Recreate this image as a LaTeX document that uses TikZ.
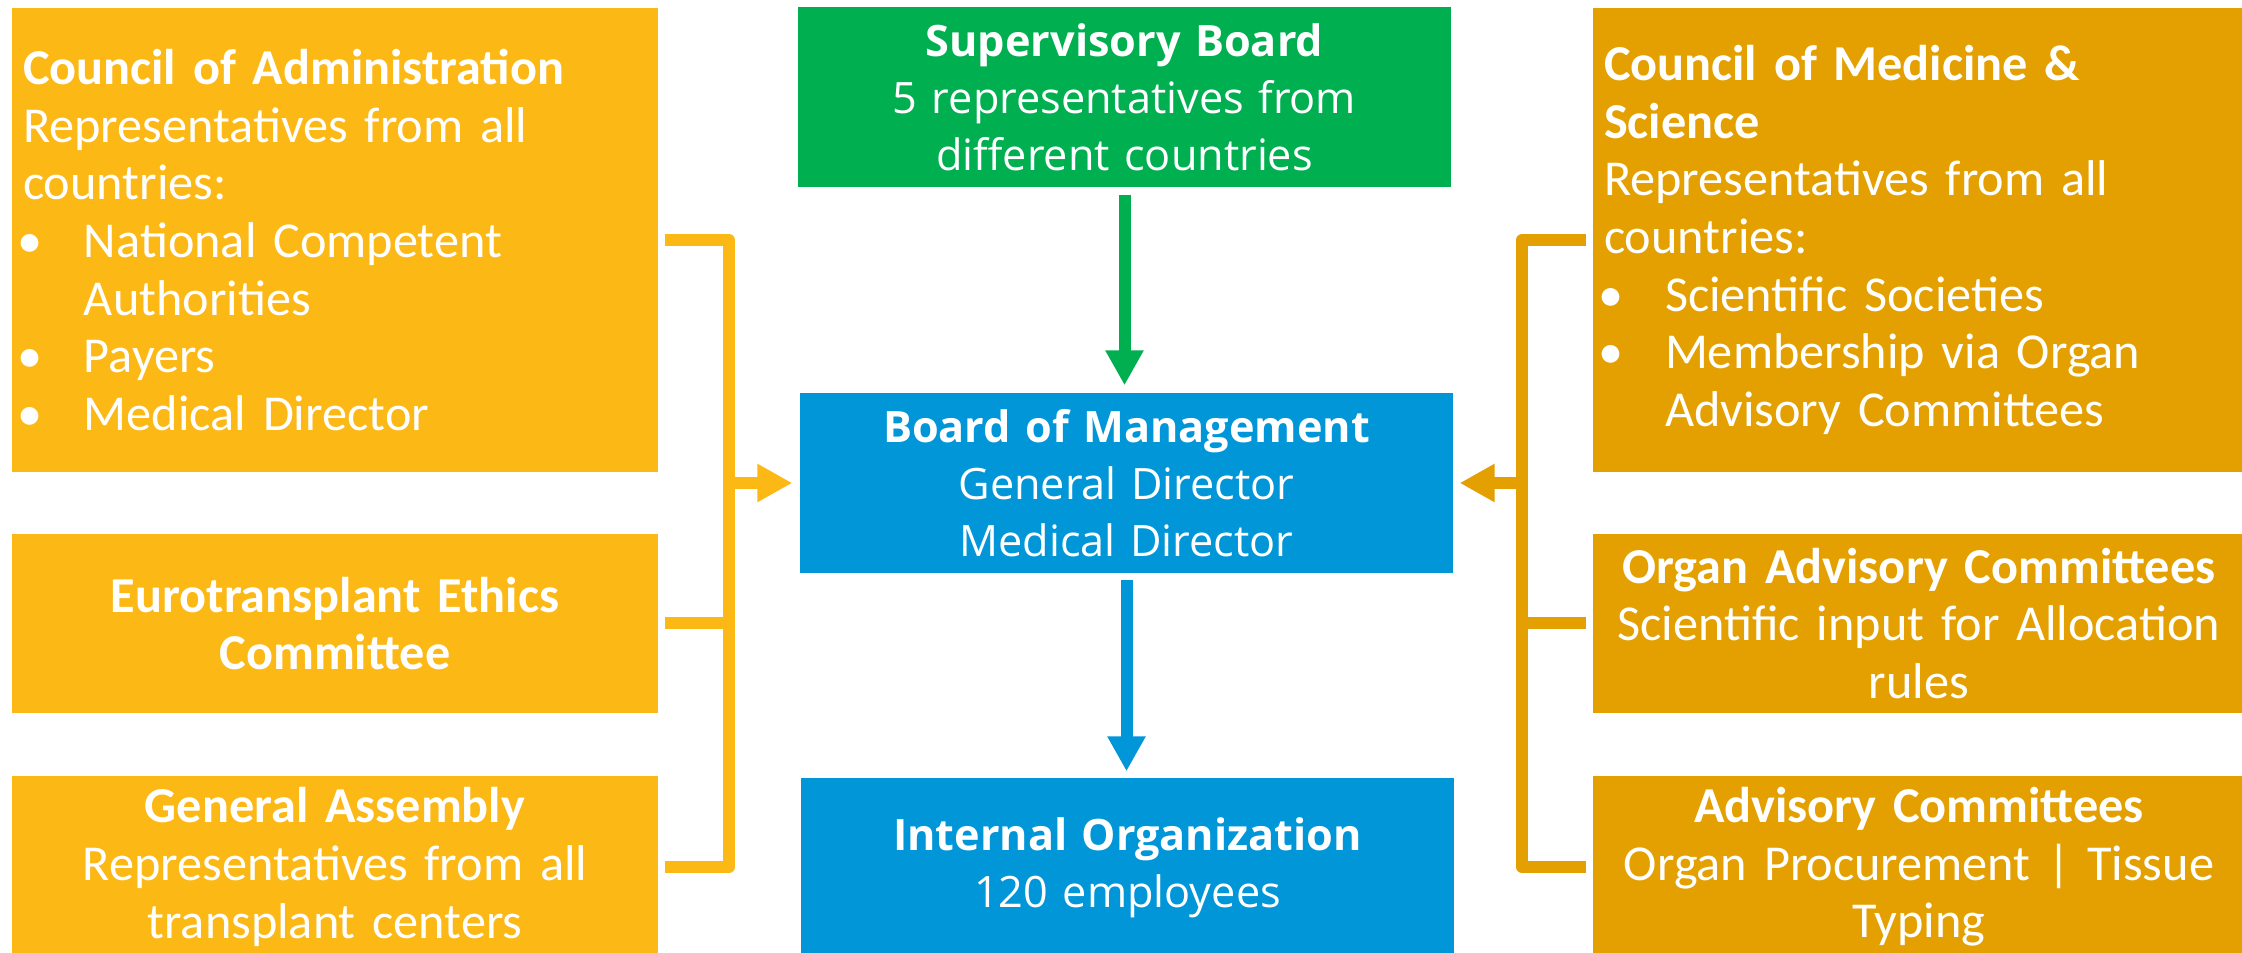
\documentclass[tikz,border=0pt]{standalone}
\usepackage{fontspec}
\newfontfamily\sidefont{Carlito}
\newfontfamily\midfont{Open Sans}
\usetikzlibrary{arrows.meta}

\definecolor{adminyellow}{HTML}{FCB815}
\definecolor{medorange}{HTML}{E3A000}
\definecolor{supgreen}{HTML}{00B050}
\definecolor{mgmtblue}{HTML}{0096D8}

\newcommand{\bul}{\makebox[0.61cm][l]{\hspace{-0.06cm}\textbullet}}
\newcommand{\ind}{\hspace*{0.61cm}}

\tikzset{
  box/.style={minimum height=1.80cm, inner xsep=0.11cm, inner ysep=0pt, text=white},
  sidebox/.style={box, minimum width=6.46cm, text width=6.24cm, font=\sidefont\fontsize{14.3}{16.4}\selectfont},
  midbox/.style={box, minimum width=6.53cm, text width=6.31cm, align=center, font=\midfont\fontsize{12.3}{16.2}\selectfont},
  lbus/.style={draw=adminyellow, line width=0.12cm, line join=round},
  rbus/.style={draw=medorange, line width=0.12cm, line join=round},
  headarrow/.style={-{Triangle[length=0.35cm,width=0.36cm]}},
}

\begin{document}
\begin{tikzpicture}
  \useasboundingbox (0,0) rectangle (22.42,9.53);
  \clip (0,0) rectangle (22.42,9.53);

  % left column
  \node[sidebox, fill=adminyellow, minimum height=4.64cm, align=left] (adm) at (3.35,7.13)
    {\textbf{Council of Administration}\\ Representatives from all\\ countries:\\
     \bul National Competent\\ \ind Authorities\\ \bul Payers\\ \bul Medical Director};
  \node[sidebox, fill=adminyellow, minimum height=1.79cm, align=center] (eth) at (3.35,3.295)
    {\textbf{Eurotransplant Ethics}\\ \textbf{Committee}};
  \node[sidebox, fill=adminyellow, minimum height=1.82cm, align=center] (ga) at (3.35,0.86)
    {\textbf{General Assembly}\\ Representatives from all\\ transplant centers};

  % middle column
  \node[midbox, fill=supgreen] (sup) at (11.245,8.56)
    {\textbf{Supervisory Board}\\ 5 representatives from\\ different countries};
  \node[midbox, fill=mgmtblue] (bom) at (11.265,4.70)
    {\textbf{Board of Management}\\ General Director\\ Medical Director};
  \node[midbox, fill=mgmtblue] (io) at (11.275,0.85)
    {\textbf{Internal Organization}\\ 120 employees};

  % right column
  \node[sidebox, fill=medorange, text width=6.30cm, minimum height=4.64cm, align=left] (cms) at (19.19,7.13)
    {\textbf{Council of Medicine \&}\\ \textbf{Science}\\ Representatives from all\\ countries:\\
     \bul Scientific Societies\\ \bul Membership via Organ\\ \ind Advisory Committees};
  \node[sidebox, fill=medorange, text width=6.30cm, minimum height=1.79cm, align=center] (oac) at (19.19,3.295)
    {\textbf{Organ Advisory Committees}\\ Scientific input for Allocation\\ rules};
  \node[sidebox, fill=medorange, text width=6.30cm, minimum height=1.82cm, align=center] (ac) at (19.19,0.86)
    {\textbf{Advisory Committees}\\ Organ Procurement | Tissue\\ Typing};

  % connectors
  \coordinate (jl) at (7.29,4.70);
  \coordinate (jr) at (15.22,4.70);
  \foreach \b in {adm,eth,ga}
  {  \draw[lbus, shorten <=0.06cm] (\b.east) -| (jl);
  }
  \foreach \b in {cms,oac,ac}
  {  \draw[rbus, shorten <=0.06cm] (\b.west) -| (jr);
  }
  \draw[lbus, headarrow, shorten >=0.07cm] (jl) -- (bom.west);
  \draw[rbus, headarrow, shorten >=0.06cm] (jr) -- (bom.east);

  \draw[draw=supgreen, line width=0.12cm, headarrow, shorten <=0.07cm, shorten >=0.07cm]
    (sup.south) -- (sup.south |- bom.north);
  \draw[draw=mgmtblue, line width=0.12cm, headarrow, shorten <=0.06cm, shorten >=0.06cm]
    (bom.south) -- (bom.south |- io.north);
\end{tikzpicture}
\end{document}
